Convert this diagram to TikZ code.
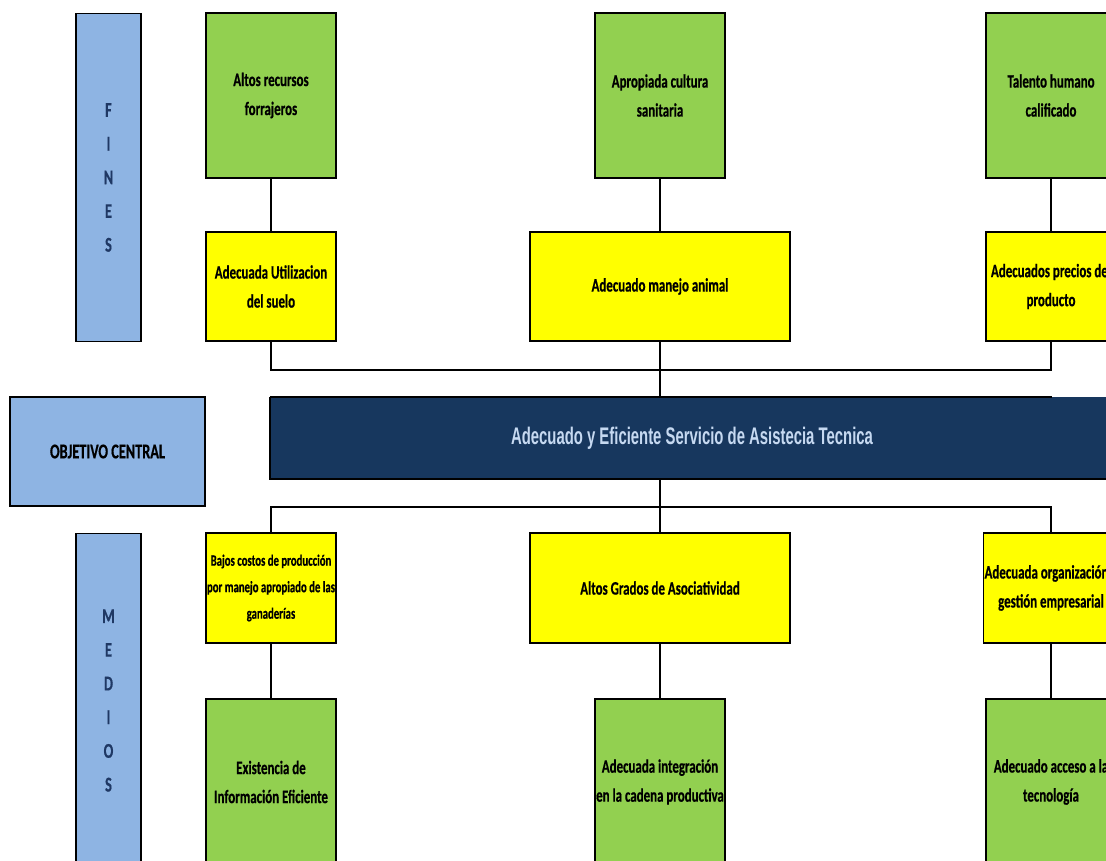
\documentclass[tikz,border=0pt]{standalone}
\usepackage{fontspec}
\setmainfont{Carlito}[FakeStretch=0.68, BoldFeatures={FakeBold=0.5}]
\newfontfamily\titlefont{Liberation Sans}[FakeStretch=0.62]
\definecolor{gr}{HTML}{92D050}
\definecolor{ye}{HTML}{FFFF00}
\definecolor{lb}{HTML}{8EB4E3}
\definecolor{nv}{HTML}{17375E}
\definecolor{dt}{HTML}{1F3864}
\definecolor{ct}{HTML}{C6D9F1}
\tikzset{
  box/.style={draw=black, line width=1.6pt, align=center, inner sep=1pt,
    font=\bfseries\fontsize{19}{29}\selectfont},
  grbox/.style={box, fill=gr, minimum width=130pt, minimum height=165pt},
  yebox/.style={box, fill=ye, minimum width=130pt, minimum height=109pt},
  wide/.style={minimum width=260pt},
  side/.style={box, fill=lb, minimum width=65pt, text=dt,
    font=\bfseries\fontsize{21}{33.7}\selectfont},
  conn/.style={draw=black, line width=1.3pt},
  small/.style={font=\bfseries\fontsize{15.8}{26.5}\selectfont},
}
\begin{document}
\begin{tikzpicture}[x=1pt,y=-1pt]
\useasboundingbox (0,0) rectangle (1106,861);
\clip (0,0) rectangle (1106,861);
% side labels
\node[side, minimum height=328pt] (fines) at (108.5,177.5) {F\\I\\N\\E\\S};
\node[side, minimum height=334pt] (medios) at (108.5,700.5) {M\\E\\D\\I\\O\\S};
\node[box, fill=lb, minimum width=195pt, minimum height=109pt,
  font=\bfseries\fontsize{21}{26}\selectfont] (obj) at (107.5,451.5) {OBJETIVO CENTRAL};
% row 1
\node[grbox] (f1) at (271,95.5) {Altos recursos\\forrajeros};
\node[grbox] (f2) at (660,95.5) {Apropiada cultura\\sanitaria};
\node[grbox] (f3) at (1051,95.5) {Talento humano\\calificado};
% row 2
\node[yebox] (e1) at (271,286.5) {Adecuada Utilizacion\\del suelo};
\node[yebox, wide] (e2) at (660,286.5) {Adecuado manejo animal};
\node[yebox] (e3) at (1051,286.5) {Adecuados precios del\\producto};
% central
\node[fill=nv, text=ct, minimum width=844pt, minimum height=82pt, inner sep=0pt,
  font=\titlefont\bfseries\fontsize{24}{28}\selectfont] (c) at (692,438)
  {Adecuado y Eficiente Servicio de Asistecia Tecnica};
\draw[line width=1.6pt] (c.north west) -- ++(782,0);
\draw[line width=1.6pt] (c.north west) -- (c.south west) -- (c.south east);
% row 3
\node[yebox, small, minimum height=110pt] (m1) at (271,588) {Bajos costos de producción\\por manejo apropiado de las\\ganaderías};
\node[yebox, wide, minimum height=110pt] (m2) at (660,588) {Altos Grados de Asociatividad};
\node[yebox, minimum height=110pt] (m3) at (1051,588) {Adecuada organización y\\gestión empresarial};
% row 4
\node[grbox, minimum height=166pt] (b1) at (271,782) {Existencia de\\Información Eficiente};
\node[grbox, minimum height=166pt] (b2) at (660,782) {Adecuada integración\\en la cadena productiva};
\node[grbox, minimum height=166pt] (b3) at (1051,782) {Adecuado acceso a la\\tecnología};
% connectors
\coordinate (jt) at (660,370);
\coordinate (jb) at (660,507);
\draw[conn] (f1.south) -- (e1.north);
\draw[conn] (f2.south) -- (e2.north);
\draw[conn] (f3.south) -- (e3.north);
\draw[conn] (e1.south) |- (jt) -| (e3.south);
\draw[conn] (e2.south) -- (c.north -| e2.south);
\draw[conn] (c.south -| m2.north) -- (m2.north);
\draw[conn] (m1.north) |- (jb) -| (m3.north);
\draw[conn] (m1.south) -- (b1.north);
\draw[conn] (m2.south) -- (b2.north);
\draw[conn] (m3.south) -- (b3.north);
\end{tikzpicture}
\end{document}
